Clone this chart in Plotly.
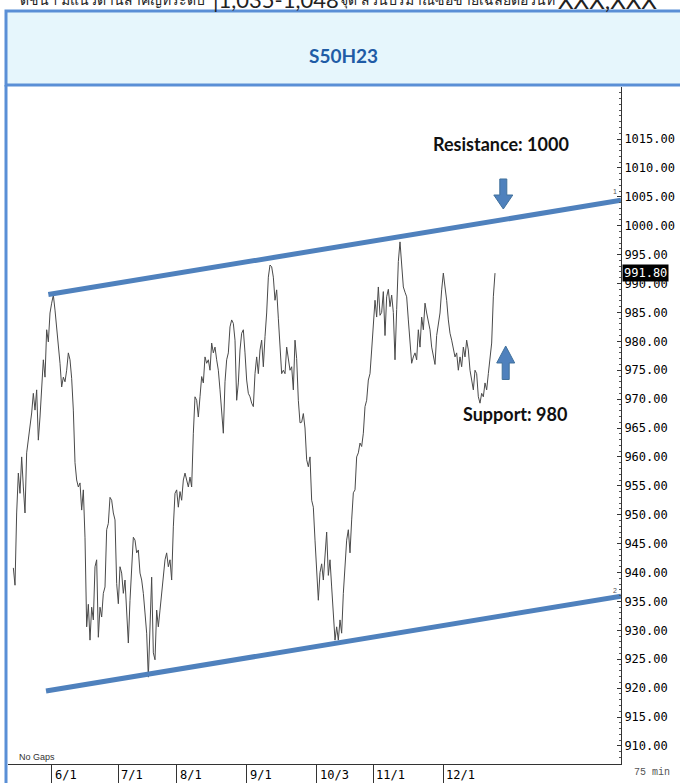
import plotly.graph_objects as go

# ---------------- data ----------------
# closing prices of S50H23, 75-min bars (evenly spaced samples)
close_jun = [940.8, 937.8, 950.3, 957.2, 953.7, 960.0, 954.8, 950.3, 960.7, 962.9,
             965.0, 967.6, 971.0, 968.1, 971.6, 962.9, 966.9, 971.6, 976.8, 973.8,
             982.0, 979.9, 984.9, 986.6, 988.0, 985.4, 982.5, 980.2, 976.2, 972.1,
             973.8, 973.0, 975.0, 978.0, 976.8, 973.6, 968.1, 959.0, 956.0, 954.8,
             955.5, 950.8, 954.3, 946.0, 930.6, 934.5, 928.3, 934.0, 931.8, 941.0,
             942.2, 928.8, 934.0, 932.3, 936.4, 937.5, 947.4, 948.5, 953.0, 952.5,
             950.3, 949.1, 938.1]
close_jul = [934.6, 941.0, 939.9, 936.4, 938.7, 933.5, 927.8, 935.2, 942.2, 946.1,
             945.6, 943.4, 943.9, 939.9, 938.7, 936.4, 933.0, 929.5, 921.9, 930.6,
             939.2, 926.1, 924.9, 933.5, 930.6, 933.5, 936.4, 939.2, 942.2, 943.4,
             941.0, 942.2, 938.7, 947.9, 953.7]
close_aug = [954.3, 951.3, 954.0, 952.5, 956.0, 957.2, 956.0, 954.8, 956.5, 954.8,
             964.1, 970.4, 969.8, 966.9, 970.4, 973.9, 972.8, 977.3, 976.2, 976.8,
             975.0, 979.7, 978.0, 979.0, 976.8, 975.0, 971.6, 967.6, 964.1, 973.0,
             976.8, 978.0, 982.5, 983.7, 983.1, 980.2, 969.8, 972.8, 978.5, 981.4,
             982.0, 978.0]
close_sep = [973.3, 971.0, 970.4, 969.3, 968.7, 974.4, 977.3, 974.4, 978.5, 980.2,
             975.6, 980.8, 984.9, 991.1, 993.2, 992.9, 991.1, 987.1, 988.9, 984.0,
             978.5, 974.4, 975.0, 974.4, 979.0, 976.8, 975.0, 975.6, 971.6, 980.2,
             977.0, 969.8, 965.9, 966.0, 967.5, 965.0, 959.5, 958.3, 960.0, 952.5,
             951.3, 945.6]
close_oct = [941.0, 935.2, 940.0, 941.5, 938.7, 942.2, 947.0, 939.5, 942.2, 937.5,
             933.0, 928.3, 930.6, 928.3, 931.8, 929.5, 936.4, 942.2, 945.6, 947.4,
             943.4, 949.1, 953.8, 954.3, 960.0, 960.7, 962.4, 961.8, 964.1, 968.7,
             969.8, 973.3, 974.4, 978.5]
close_nov = [983.1, 987.1, 984.2, 989.4, 984.5, 985.0, 988.6, 981.0, 987.7, 989.0,
             986.0, 988.0, 985.0, 976.8, 985.5, 993.8, 997.2, 992.3, 989.4, 988.5,
             987.7, 983.7, 980.2, 976.2, 977.3, 978.0, 976.8, 982.0, 979.0, 984.2,
             982.0, 986.6, 984.9, 983.1, 982.0, 979.0, 977.3, 976.0, 981.0, 983.3,
             984.9, 988.9]
close_dec = [991.8, 989.4, 987.1, 983.7, 981.4, 980.2, 978.5, 977.3, 978.0, 975.0,
             977.3, 975.6, 979.0, 977.3, 980.2, 978.5, 975.0, 973.3, 971.6, 975.0,
             974.4, 970.4, 969.3, 971.0, 970.4, 972.8, 971.6, 974.4, 977.3, 979.7,
             987.7, 991.8]
close = close_jun + close_jul + close_aug + close_sep + close_oct + close_nov + close_dec
last_price = 991.80

month_idx = [23, 63, 98, 140, 182, 216, 258]
month_labels = ["6/1", "7/1", "8/1", "9/1", "10/3", "11/1", "12/1"]

y_ticks = [910, 915, 920, 925, 930, 935, 940, 945, 950, 955, 960, 965, 970,
           975, 980, 985, 990, 995, 1000, 1005, 1010, 1015]

# trend channel (bar index, price)
res_idx = [21, 364.6]
res_val = [988.1, 1004.4]
sup_idx = [19.6, 364.6]
sup_val = [919.5, 935.9]

x_range = [-3.2, 364.6]
y_range = [906.87, 1024.0]

# ---------------- layout helpers ----------------
W, H = 680, 783
PL, PR, PT, PB = 8, 621, 87, 764   # plot area in px


def fx(px):
    return (px - PL) / (PR - PL)


def fy(py):
    return (PB - py) / (PB - PT)


BLUE = "#4f81bd"
MONO = "DejaVu Sans Mono"

fig = go.Figure()
fig.add_trace(go.Scatter(x=list(range(len(close))), y=close, mode="lines",
                         line=dict(color="#4a4a4a", width=1), hoverinfo="skip"))
fig.add_trace(go.Scatter(x=res_idx, y=res_val, mode="lines",
                         line=dict(color=BLUE, width=5), hoverinfo="skip"))
fig.add_trace(go.Scatter(x=sup_idx, y=sup_val, mode="lines",
                         line=dict(color=BLUE, width=5), hoverinfo="skip"))

shapes = []
# header box
shapes.append(dict(type="rect", xref="paper", yref="paper",
                   x0=fx(6), x1=fx(690), y0=fy(85), y1=fy(11),
                   line=dict(color="#5a8fd6", width=3), fillcolor="#e6f6fc", layer="below"))
# left frame line
shapes.append(dict(type="line", xref="paper", yref="paper",
                   x0=fx(6), x1=fx(6), y0=fy(85), y1=fy(790),
                   line=dict(color="#5a8fd6", width=3)))


def arrow_path(cx, y_tail, y_base, y_tip, shaft_w, head_w):
    hs, hh = shaft_w / 2, head_w / 2
    pts = [(cx - hs, y_tail), (cx + hs, y_tail), (cx + hs, y_base), (cx + hh, y_base),
           (cx, y_tip), (cx - hh, y_base), (cx - hs, y_base)]
    return "M " + " L ".join(f"{fx(a):.5f},{fy(b):.5f}" for a, b in pts) + " Z"


shapes.append(dict(type="path", xref="paper", yref="paper",
                   path=arrow_path(503.3, 179, 195, 209, 7, 19),
                   fillcolor=BLUE, line=dict(color="#41719c", width=1)))
shapes.append(dict(type="path", xref="paper", yref="paper",
                   path=arrow_path(505.7, 379.5, 363, 346, 7, 18),
                   fillcolor=BLUE, line=dict(color="#41719c", width=1)))


def note(text, px, py, size, family="Lato", color="#111111", xanchor="center", **kw):
    return dict(text=text, xref="paper", yref="paper", x=fx(px), y=fy(py),
                xanchor=xanchor, yanchor="middle", showarrow=False,
                font=dict(family=family, size=size, color=color), **kw)


annotations = [
    note("<b>S50H23</b>", 343, 55, 19, color="#1f5ca6"),
    note("<b>Resistance: 1000</b>", 501, 144, 18),
    note("<b>Support: 980</b>", 515, 414, 18),
    note("No Gaps", 17, 757, 9, family="Liberation Sans", color="#333333", xanchor="left"),
    note("75 min", 672, 772, 10, family="Liberation Mono", color="#555555", xanchor="right"),
    note("1", 615, 191, 7, family="Liberation Sans", color="#555555"),
    note("2", 615, 590, 7, family="Liberation Sans", color="#555555"),
    # cut-off text line above the header
    note("ดัชนีฯ มีแนวต้านสำคัญที่ระดับ", 18, 0, 14, family="Noto Sans", color="#222222",
         xanchor="left"),
    note("|1,035-1,048", 211, -1, 22, color="#222222", xanchor="left"),
    note("จุด ส่วนปริมาณซื้อขายเฉลี่ยต่อวันที่", 338, 0, 14, family="Noto Sans",
         color="#222222", xanchor="left"),
    note("XXX,XXX", 556, -1, 24, color="#222222", xanchor="left"),
    dict(text=f"{last_price:.2f}", xref="paper", yref="y", x=1.0, y=last_price,
         xanchor="left", yanchor="middle", xshift=1, showarrow=False,
         bgcolor="#000000", borderpad=1,
         font=dict(family=MONO, size=12, color="#ffffff")),
]
for i, lab in zip(month_idx, month_labels):
    annotations.append(dict(text=lab, xref="x", yref="paper", x=i, y=fy(775),
                            xanchor="left", yanchor="middle", xshift=1, showarrow=False,
                            font=dict(family=MONO, size=12, color="#000000")))

fig.update_layout(
    width=W, height=H,
    margin=dict(l=PL, r=W - PR, t=PT, b=H - PB, autoexpand=False),
    paper_bgcolor="white", plot_bgcolor="white",
    showlegend=False,
    shapes=shapes, annotations=annotations,
    xaxis=dict(range=x_range, showgrid=False, zeroline=False, showline=True,
               automargin=False,
               linecolor="#333333", linewidth=1, ticks="outside", ticklen=19,
               tickcolor="#333333", tickvals=month_idx, showticklabels=False),
    yaxis=dict(range=y_range, side="right", showgrid=False, zeroline=False,
               automargin=False,
               showline=True, linecolor="#333333", linewidth=1,
               ticks="inside", ticklen=4, tickcolor="#333333",
               tickmode="array", tickvals=y_ticks,
               ticktext=[f"{v:.2f}" for v in y_ticks],
               tickfont=dict(family=MONO, size=12, color="#000000"),
               minor=dict(dtick=1, ticks="inside", ticklen=2, tickcolor="#555555")),
)

fig.write_html("out.html", config={"displayModeBar": False},
               post_script="document.body.style.margin='0';document.body.style.overflow='hidden';")
